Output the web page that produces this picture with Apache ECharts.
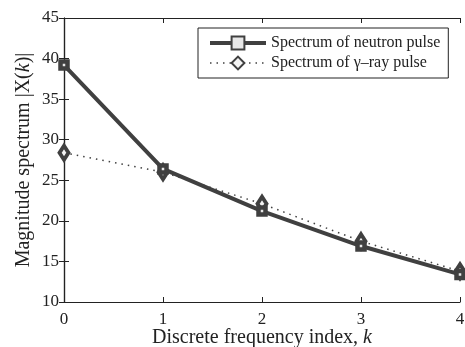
<!DOCTYPE html>
<html>
<head>
<meta charset="utf-8">
<script src="https://cdn.jsdelivr.net/npm/echarts@6/dist/echarts.min.js"></script>
<style>
  html, body { margin: 0; padding: 0; background: #fff; }
  #chart { width: 465px; height: 347px; }
</style>
</head>
<body>
<div id="chart"></div>
<script>
    // data
    const freqIndex = [0, 1, 2, 3, 4]
    const neutronSpectrum = [39.2, 26.4, 21.2, 16.9, 13.4]
    const gammaSpectrum = [28.4, 26.0, 22.1, 17.5, 13.8]
    const yTicks = { min: 10, max: 45, step: 5 }
    const xTicks = { min: 0, max: 4, step: 1 }

    const chartDom = document.getElementById('chart')
    const myChart = echarts.init(chartDom)

    const ink = '#404040'
    const serif = '"Liberation Serif", "DejaVu Serif", serif'

    const toPairs = (vals) => freqIndex.map((k, i) => [k, vals[i]])

    const axisCommon = {
        axisLine: { show: true, lineStyle: { color: '#222', width: 1.2 } },
        axisTick: { show: true, inside: true, length: 5, lineStyle: { color: '#222' } },
        splitLine: { show: false }
    }

    const nameRich = {
        t: { fontFamily: serif, fontSize: 20, color: '#222' },
        i: { fontFamily: serif, fontSize: 20, color: '#222', fontStyle: 'italic' }
    }

    let option = {
        backgroundColor: '#fff',
        animation: false,
        grid: { left: 64, right: 5, top: 18, bottom: 45, outerBoundsMode: 'none', containLabel: false },
        legend: {
            left: 198,
            top: 28,
            orient: 'vertical',
            padding: [7, 8, 7, 10],
            itemGap: 4,
            itemWidth: 56,
            itemHeight: 16,
            borderColor: '#222',
            borderWidth: 1,
            backgroundColor: '#fff',
            textStyle: { fontFamily: serif, fontSize: 16, color: '#222' },
            data: [
                { name: 'Spectrum of neutron pulse', lineStyle: { width: 4, color: ink } },
                { name: 'Spectrum of γ–ray pulse', lineStyle: { width: 1.5, color: ink, type: [1.5, 5] } }
            ]
        },
        xAxis: [
            Object.assign({}, axisCommon, {
                type: 'value',
                min: xTicks.min,
                max: xTicks.max,
                interval: xTicks.step,
                name: '{t|Discrete frequency index, }{i|k}',
                nameLocation: 'middle',
                nameGap: 26,
                nameMoveOverlap: false,
                nameTextStyle: { rich: nameRich },
                axisLabel: { fontFamily: serif, fontSize: 17, color: '#222', margin: 9 }
            }),
            Object.assign({}, axisCommon, {
                type: 'value',
                position: 'top',
                min: xTicks.min,
                max: xTicks.max,
                interval: xTicks.step,
                axisLabel: { show: false }
            })
        ],
        yAxis: [
            Object.assign({}, axisCommon, {
                type: 'value',
                min: yTicks.min,
                max: yTicks.max,
                interval: yTicks.step,
                name: '{t|Magnitude spectrum |X(}{i|k}{t|)|}',
                nameLocation: 'middle',
                nameGap: 30,
                nameMoveOverlap: false,
                nameTextStyle: { rich: nameRich },
                axisLabel: { fontFamily: serif, fontSize: 17, color: '#222', margin: 5 }
            }),
            Object.assign({}, axisCommon, {
                type: 'value',
                position: 'right',
                min: yTicks.min,
                max: yTicks.max,
                interval: yTicks.step,
                axisLabel: { show: false }
            })
        ],
        series: [
            {
                name: 'Spectrum of neutron pulse',
                type: 'line',
                z: 3,
                clip: false,
                data: toPairs(neutronSpectrum),
                symbol: 'rect',
                symbolSize: 7,
                lineStyle: { color: ink, width: 4 },
                itemStyle: { color: '#e8e8e8', borderColor: ink, borderWidth: 4.5 }
            },
            {
                name: 'Spectrum of γ–ray pulse',
                type: 'line',
                z: 2,
                clip: false,
                data: toPairs(gammaSpectrum),
                symbol: 'diamond',
                symbolSize: [9, 14],
                lineStyle: { color: ink, width: 1.5, type: [1.5, 5] },
                itemStyle: { color: '#f4f4f4', borderColor: ink, borderWidth: 4 }
            }
        ]
    }

    option && myChart.setOption(option)
</script>
</body>
</html>
